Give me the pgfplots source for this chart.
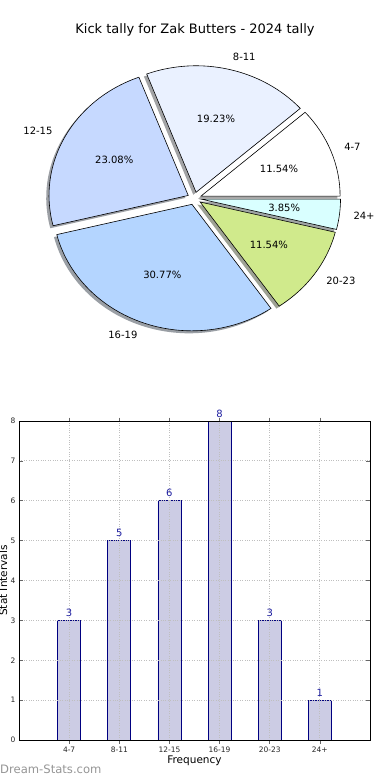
\documentclass[border=0pt]{standalone}
\usepackage{pgfplots}
\pgfplotsset{compat=1.18}
\usepackage{pgfplotstable}
\usepackage{fontspec}
\setmainfont{DejaVu Sans}
\setsansfont{DejaVu Sans}

\definecolor{cA}{HTML}{FFFFFF}
\definecolor{cB}{HTML}{EAF1FF}
\definecolor{cC}{HTML}{C6D9FF}
\definecolor{cD}{HTML}{B4D5FF}
\definecolor{cE}{HTML}{D0EA8C}
\definecolor{cF}{HTML}{D9FFFF}
\definecolor{barfill}{HTML}{CCCCE4}
\definecolor{baredge}{HTML}{000080}
\definecolor{vallab}{HTML}{1E1EA0}
\definecolor{wm}{HTML}{959595}

\pgfplotstableread{
idx label count
0 4-7 3
1 8-11 5
2 12-15 6
3 16-19 8
4 20-23 3
5 24+ 1
}\kicks

% shadow of a slice: start, end, colour
\newcommand\pieshadow[3]{%
  \fill[#3!30!black, fill opacity=0.5] ([shift={(-2.8pt,-2.5pt)}]axis cs:{0.05*cos((#1+#2)/2)},{0.05*sin((#1+#2)/2)}) -- ++(#1:139.2pt and 126.5pt) arc[start angle=#1, end angle=#2, x radius=139.2pt, y radius=126.5pt] -- cycle;}
\newcommand\pieslice[5]{%
  \filldraw[fill=#3, draw=black, line width=0.6pt] (axis cs:{0.05*cos((#1+#2)/2)},{0.05*sin((#1+#2)/2)}) -- ++(#1:139.2pt and 126.5pt) arc[start angle=#1, end angle=#2, x radius=139.2pt, y radius=126.5pt] -- cycle;
  \node[inner sep=0pt, anchor=#5, font=\fontsize{10}{12}\selectfont] at (axis cs:{1.15*cos((#1+#2)/2)},{1.15*sin((#1+#2)/2)}) {#4};}
\newcommand\piepct[3]{%
  \node[inner sep=0pt, font=\fontsize{10}{12}\selectfont] at (axis cs:{0.65*cos((#1+#2)/2)},{0.65*sin((#1+#2)/2)}) {\pgfmathprintnumber[fixed,fixed zerofill,precision=2,assume math mode=true]{#3}\%};}

\begin{document}
\begin{tikzpicture}
\useasboundingbox (0,0) rectangle (390pt,-780pt);
\pgfplotstablegetelem{0}{count}\of\kicks \pgfmathsetmacro\cA{\pgfplotsretval}
\pgfplotstablegetelem{1}{count}\of\kicks \pgfmathsetmacro\cB{\pgfplotsretval}
\pgfplotstablegetelem{2}{count}\of\kicks \pgfmathsetmacro\cC{\pgfplotsretval}
\pgfplotstablegetelem{3}{count}\of\kicks \pgfmathsetmacro\cD{\pgfplotsretval}
\pgfplotstablegetelem{4}{count}\of\kicks \pgfmathsetmacro\cE{\pgfplotsretval}
\pgfplotstablegetelem{5}{count}\of\kicks \pgfmathsetmacro\cF{\pgfplotsretval}
\pgfmathsetmacro\tot{\cA+\cB+\cC+\cD+\cE+\cF}
\pgfmathsetmacro\aA{360*\cA/\tot}
\pgfmathsetmacro\aB{\aA+360*\cB/\tot}
\pgfmathsetmacro\aC{\aB+360*\cC/\tot}
\pgfmathsetmacro\aD{\aC+360*\cD/\tot}
\pgfmathsetmacro\aE{\aD+360*\cE/\tot}
\pgfmathsetmacro\pA{100*\cA/\tot}
\pgfmathsetmacro\pB{100*\cB/\tot}
\pgfmathsetmacro\pC{100*\cC/\tot}
\pgfmathsetmacro\pD{100*\cD/\tot}
\pgfmathsetmacro\pE{100*\cE/\tot}
\pgfmathsetmacro\pF{100*\cF/\tot}

\node[font=\fontsize{13}{15}\selectfont] at (195pt,-30pt) {Kick tally for Zak Butters - 2024 tally};

% ---- pie ----
\begin{axis}[at={(194.4pt,-198.4pt)}, anchor=center, scale only axis,
  width=389.76pt, height=354.2pt, xmin=-1.4, xmax=1.4, ymin=-1.4, ymax=1.4,
  hide axis, clip=false]
\pieshadow{0}{\aA}{cA}
\pieshadow{\aA}{\aB}{cB}
\pieshadow{\aB}{\aC}{cC}
\pieshadow{\aC}{\aD}{cD}
\pieshadow{\aD}{\aE}{cE}
\pieshadow{\aE}{360}{cF}
\pieslice{0}{\aA}{cA}{4-7}{west}
\pieslice{\aA}{\aB}{cB}{8-11}{west}
\pieslice{\aB}{\aC}{cC}{12-15}{east}
\pieslice{\aC}{\aD}{cD}{16-19}{east}
\pieslice{\aD}{\aE}{cE}{20-23}{west}
\pieslice{\aE}{360}{cF}{24+}{west}
\piepct{0}{\aA}{\pA}
\piepct{\aA}{\aB}{\pB}
\piepct{\aB}{\aC}{\pC}
\piepct{\aC}{\aD}{\pD}
\piepct{\aD}{\aE}{\pE}
\piepct{\aE}{360}{\pF}
\end{axis}

% ---- bars ----
\begin{axis}[at={(19pt,-740pt)}, anchor=south west, scale only axis,
  width=351pt, height=319pt,
  xmin=-1, xmax=6, ymin=0, ymax=8,
  xtick={0,...,5}, xticklabels from table={\kicks}{label},
  ytick={0,...,8},
  /pgf/number format/assume math mode=true,
  ticklabel style={font=\fontsize{7.5}{9}\selectfont, color=black!85},
  tick align=inside, major tick length=3.5pt,
  tick style={black!60, line width=0.6pt},
  axis line style={black, line width=0.9pt},
  grid=major, major grid style={dotted, black!25, line width=0.9pt},
  axis on top,
  xlabel={Frequency}, ylabel={Stat Intervals},
  xlabel style={font=\fontsize{10.5}{12}\selectfont, at={([yshift=-23.3pt]axis description cs:0.5,0)}, anchor=base},
  ylabel style={font=\fontsize{10.5}{12}\selectfont, at={([xshift=-12pt]axis description cs:0,0.5)}, anchor=base},
  ybar, bar width=23pt,
  nodes near coords,
  every node near coord/.append style={font=\fontsize{10}{12}\selectfont, color=vallab},
  ]
\addplot[fill=barfill, draw=baredge, line width=0.8pt] table[x=idx, y=count] {\kicks};
\end{axis}

\node[anchor=base west, inner sep=0pt, font=\fontsize{11.6}{13}\selectfont, color=wm] at (0pt,-773pt) {Dream-Stats.com};
\end{tikzpicture}
\end{document}
